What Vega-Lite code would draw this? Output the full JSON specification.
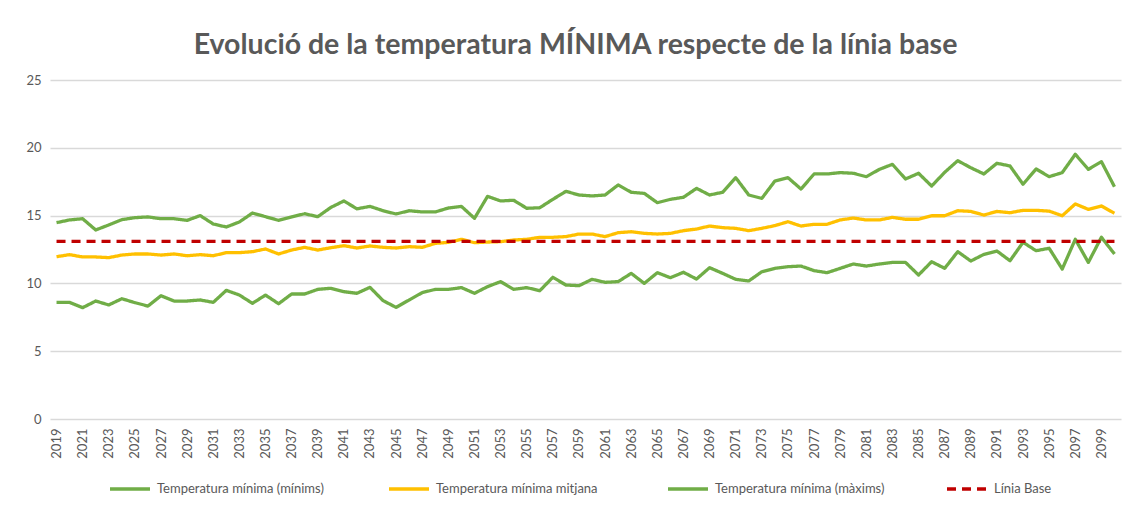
{
  "$schema": "https://vega.github.io/schema/vega-lite/v6.json",
  "autosize": {"type": "none"},
  "padding": {"left": 50, "top": 80, "right": 11, "bottom": 87},
  "width": 1071,
  "height": 339,
  "background": "white",
  "title": {
    "text": "Evolució de la temperatura MÍNIMA respecte de la línia base",
    "font": "Lato",
    "fontSize": 28.5,
    "fontWeight": "bold",
    "color": "#595959",
    "anchor": "middle",
    "frame": "group",
    "dx": -10,
    "offset": 15
  },
  "data": {
    "values": [
      {"any": 2019, "minims": 8.6, "mitjana": 11.97, "maxims": 14.48, "base": 13.1},
      {"any": 2020, "minims": 8.6, "mitjana": 12.12, "maxims": 14.68, "base": 13.1},
      {"any": 2021, "minims": 8.21, "mitjana": 11.95, "maxims": 14.77, "base": 13.1},
      {"any": 2022, "minims": 8.7, "mitjana": 11.95, "maxims": 13.94, "base": 13.1},
      {"any": 2023, "minims": 8.41, "mitjana": 11.9, "maxims": 14.31, "base": 13.1},
      {"any": 2024, "minims": 8.87, "mitjana": 12.09, "maxims": 14.7, "base": 13.1},
      {"any": 2025, "minims": 8.58, "mitjana": 12.17, "maxims": 14.85, "base": 13.1},
      {"any": 2026, "minims": 8.33, "mitjana": 12.17, "maxims": 14.9, "base": 13.1},
      {"any": 2027, "minims": 9.09, "mitjana": 12.09, "maxims": 14.77, "base": 13.1},
      {"any": 2028, "minims": 8.7, "mitjana": 12.17, "maxims": 14.77, "base": 13.1},
      {"any": 2029, "minims": 8.7, "mitjana": 12.04, "maxims": 14.65, "base": 13.1},
      {"any": 2030, "minims": 8.78, "mitjana": 12.12, "maxims": 15.0, "base": 13.1},
      {"any": 2031, "minims": 8.6, "mitjana": 12.04, "maxims": 14.38, "base": 13.1},
      {"any": 2032, "minims": 9.49, "mitjana": 12.27, "maxims": 14.16, "base": 13.1},
      {"any": 2033, "minims": 9.14, "mitjana": 12.27, "maxims": 14.53, "base": 13.1},
      {"any": 2034, "minims": 8.53, "mitjana": 12.34, "maxims": 15.19, "base": 13.1},
      {"any": 2035, "minims": 9.14, "mitjana": 12.54, "maxims": 14.92, "base": 13.1},
      {"any": 2036, "minims": 8.5, "mitjana": 12.17, "maxims": 14.65, "base": 13.1},
      {"any": 2037, "minims": 9.22, "mitjana": 12.46, "maxims": 14.9, "base": 13.1},
      {"any": 2038, "minims": 9.22, "mitjana": 12.66, "maxims": 15.14, "base": 13.1},
      {"any": 2039, "minims": 9.56, "mitjana": 12.46, "maxims": 14.92, "base": 13.1},
      {"any": 2040, "minims": 9.64, "mitjana": 12.63, "maxims": 15.6, "base": 13.1},
      {"any": 2041, "minims": 9.39, "mitjana": 12.78, "maxims": 16.08, "base": 13.1},
      {"any": 2042, "minims": 9.27, "mitjana": 12.61, "maxims": 15.5, "base": 13.1},
      {"any": 2043, "minims": 9.71, "mitjana": 12.76, "maxims": 15.68, "base": 13.1},
      {"any": 2044, "minims": 8.73, "mitjana": 12.66, "maxims": 15.36, "base": 13.1},
      {"any": 2045, "minims": 8.23, "mitjana": 12.61, "maxims": 15.12, "base": 13.1},
      {"any": 2046, "minims": 8.78, "mitjana": 12.71, "maxims": 15.36, "base": 13.1},
      {"any": 2047, "minims": 9.32, "mitjana": 12.66, "maxims": 15.27, "base": 13.1},
      {"any": 2048, "minims": 9.56, "mitjana": 12.95, "maxims": 15.27, "base": 13.1},
      {"any": 2049, "minims": 9.56, "mitjana": 13.03, "maxims": 15.56, "base": 13.1},
      {"any": 2050, "minims": 9.69, "mitjana": 13.25, "maxims": 15.68, "base": 13.1},
      {"any": 2051, "minims": 9.27, "mitjana": 13.0, "maxims": 14.8, "base": 13.1},
      {"any": 2052, "minims": 9.76, "mitjana": 13.05, "maxims": 16.42, "base": 13.1},
      {"any": 2053, "minims": 10.13, "mitjana": 13.08, "maxims": 16.08, "base": 13.1},
      {"any": 2054, "minims": 9.56, "mitjana": 13.2, "maxims": 16.13, "base": 13.1},
      {"any": 2055, "minims": 9.69, "mitjana": 13.25, "maxims": 15.54, "base": 13.1},
      {"any": 2056, "minims": 9.46, "mitjana": 13.4, "maxims": 15.58, "base": 13.1},
      {"any": 2057, "minims": 10.45, "mitjana": 13.4, "maxims": 16.2, "base": 13.1},
      {"any": 2058, "minims": 9.88, "mitjana": 13.45, "maxims": 16.79, "base": 13.1},
      {"any": 2059, "minims": 9.83, "mitjana": 13.64, "maxims": 16.52, "base": 13.1},
      {"any": 2060, "minims": 10.3, "mitjana": 13.64, "maxims": 16.45, "base": 13.1},
      {"any": 2061, "minims": 10.08, "mitjana": 13.45, "maxims": 16.52, "base": 13.1},
      {"any": 2062, "minims": 10.13, "mitjana": 13.74, "maxims": 17.26, "base": 13.1},
      {"any": 2063, "minims": 10.74, "mitjana": 13.81, "maxims": 16.72, "base": 13.1},
      {"any": 2064, "minims": 10.0, "mitjana": 13.69, "maxims": 16.64, "base": 13.1},
      {"any": 2065, "minims": 10.79, "mitjana": 13.64, "maxims": 15.95, "base": 13.1},
      {"any": 2066, "minims": 10.42, "mitjana": 13.69, "maxims": 16.2, "base": 13.1},
      {"any": 2067, "minims": 10.82, "mitjana": 13.89, "maxims": 16.35, "base": 13.1},
      {"any": 2068, "minims": 10.32, "mitjana": 14.01, "maxims": 17.01, "base": 13.1},
      {"any": 2069, "minims": 11.16, "mitjana": 14.23, "maxims": 16.52, "base": 13.1},
      {"any": 2070, "minims": 10.74, "mitjana": 14.11, "maxims": 16.72, "base": 13.1},
      {"any": 2071, "minims": 10.3, "mitjana": 14.06, "maxims": 17.8, "base": 13.1},
      {"any": 2072, "minims": 10.18, "mitjana": 13.89, "maxims": 16.52, "base": 13.1},
      {"any": 2073, "minims": 10.86, "mitjana": 14.06, "maxims": 16.27, "base": 13.1},
      {"any": 2074, "minims": 11.11, "mitjana": 14.26, "maxims": 17.55, "base": 13.1},
      {"any": 2075, "minims": 11.23, "mitjana": 14.55, "maxims": 17.8, "base": 13.1},
      {"any": 2076, "minims": 11.28, "mitjana": 14.23, "maxims": 16.96, "base": 13.1},
      {"any": 2077, "minims": 10.94, "mitjana": 14.36, "maxims": 18.07, "base": 13.1},
      {"any": 2078, "minims": 10.79, "mitjana": 14.36, "maxims": 18.07, "base": 13.1},
      {"any": 2079, "minims": 11.11, "mitjana": 14.68, "maxims": 18.17, "base": 13.1},
      {"any": 2080, "minims": 11.43, "mitjana": 14.82, "maxims": 18.12, "base": 13.1},
      {"any": 2081, "minims": 11.28, "mitjana": 14.68, "maxims": 17.87, "base": 13.1},
      {"any": 2082, "minims": 11.43, "mitjana": 14.68, "maxims": 18.41, "base": 13.1},
      {"any": 2083, "minims": 11.55, "mitjana": 14.87, "maxims": 18.78, "base": 13.1},
      {"any": 2084, "minims": 11.55, "mitjana": 14.73, "maxims": 17.7, "base": 13.1},
      {"any": 2085, "minims": 10.62, "mitjana": 14.73, "maxims": 18.12, "base": 13.1},
      {"any": 2086, "minims": 11.6, "mitjana": 14.99, "maxims": 17.18, "base": 13.1},
      {"any": 2087, "minims": 11.11, "mitjana": 14.99, "maxims": 18.19, "base": 13.1},
      {"any": 2088, "minims": 12.34, "mitjana": 15.36, "maxims": 19.05, "base": 13.1},
      {"any": 2089, "minims": 11.65, "mitjana": 15.31, "maxims": 18.53, "base": 13.1},
      {"any": 2090, "minims": 12.14, "mitjana": 15.04, "maxims": 18.07, "base": 13.1},
      {"any": 2091, "minims": 12.39, "mitjana": 15.31, "maxims": 18.86, "base": 13.1},
      {"any": 2092, "minims": 11.67, "mitjana": 15.21, "maxims": 18.66, "base": 13.1},
      {"any": 2093, "minims": 13.03, "mitjana": 15.39, "maxims": 17.31, "base": 13.1},
      {"any": 2094, "minims": 12.41, "mitjana": 15.39, "maxims": 18.44, "base": 13.1},
      {"any": 2095, "minims": 12.59, "mitjana": 15.33, "maxims": 17.87, "base": 13.1},
      {"any": 2096, "minims": 11.06, "mitjana": 14.99, "maxims": 18.17, "base": 13.1},
      {"any": 2097, "minims": 13.25, "mitjana": 15.86, "maxims": 19.52, "base": 13.1},
      {"any": 2098, "minims": 11.55, "mitjana": 15.46, "maxims": 18.41, "base": 13.1},
      {"any": 2099, "minims": 13.4, "mitjana": 15.71, "maxims": 18.98, "base": 13.1},
      {"any": 2100, "minims": 12.17, "mitjana": 15.17, "maxims": 17.13, "base": 13.1}
    ]
  },
  "transform": [
    {"fold": ["minims", "mitjana", "maxims", "base"], "as": ["serie", "valor"]}
  ],
  "mark": {"type": "line", "strokeWidth": 3.3, "strokeCap": "butt", "strokeJoin": "round"},
  "encoding": {
    "x": {
      "field": "any",
      "type": "ordinal",
      "scale": {"padding": 0.5},
      "axis": {
        "title": null,
        "labelAngle": 270,
        "labelExpr": "datum.value % 2 == 1 ? datum.label : ''",
        "ticks": false,
        "domain": false,
        "grid": false,
        "labelFont": "Lato",
        "labelFontSize": 13,
        "labelColor": "#595959",
        "labelPadding": 9
      }
    },
    "y": {
      "field": "valor",
      "type": "quantitative",
      "scale": {"domain": [0, 25], "nice": false},
      "axis": {
        "title": null,
        "values": [0, 5, 10, 15, 20, 25],
        "domain": false,
        "ticks": false,
        "gridColor": "#D9D9D9",
        "gridWidth": 1.3,
        "labelFont": "Lato",
        "labelFontSize": 13,
        "labelColor": "#595959",
        "labelPadding": 9
      }
    },
    "color": {
      "field": "serie",
      "type": "nominal",
      "scale": {
        "domain": ["minims", "mitjana", "maxims", "base"],
        "range": ["#70AD47", "#FFC000", "#70AD47", "#C00000"]
      },
      "legend": {
        "title": null,
        "orient": "none",
        "legendX": 58,
        "legendY": 387,
        "direction": "horizontal",
        "columns": 4,
        "gridAlign": "all",
        "columnPadding": 55,
        "symbolType": "stroke",
        "symbolSize": 1600,
        "symbolStrokeWidth": 3.3,
        "labelFont": "Lato",
        "labelFontSize": 13,
        "labelColor": "#595959",
        "labelOffset": 5,
        "labelLimit": 300,
        "labelExpr": "datum.label == 'minims' ? 'Temperatura mínima (mínims)' : datum.label == 'mitjana' ? 'Temperatura mínima mitjana' : datum.label == 'maxims' ? 'Temperatura mínima (màxims)' : 'Línia Base'"
      }
    },
    "strokeDash": {
      "field": "serie",
      "type": "nominal",
      "scale": {
        "domain": ["minims", "mitjana", "maxims", "base"],
        "range": [[1, 0], [1, 0], [1, 0], [9, 6]]
      },
      "legend": {
        "title": null,
        "orient": "none",
        "legendX": 58,
        "legendY": 387,
        "direction": "horizontal",
        "columns": 4,
        "gridAlign": "all",
        "columnPadding": 55,
        "symbolType": "stroke",
        "symbolSize": 1600,
        "symbolStrokeWidth": 3.3,
        "labelFont": "Lato",
        "labelFontSize": 13,
        "labelColor": "#595959",
        "labelOffset": 5,
        "labelLimit": 300,
        "labelExpr": "datum.label == 'minims' ? 'Temperatura mínima (mínims)' : datum.label == 'mitjana' ? 'Temperatura mínima mitjana' : datum.label == 'maxims' ? 'Temperatura mínima (màxims)' : 'Línia Base'"
      }
    }
  },
  "config": {
    "view": {"stroke": null},
    "font": "Lato"
  }
}
